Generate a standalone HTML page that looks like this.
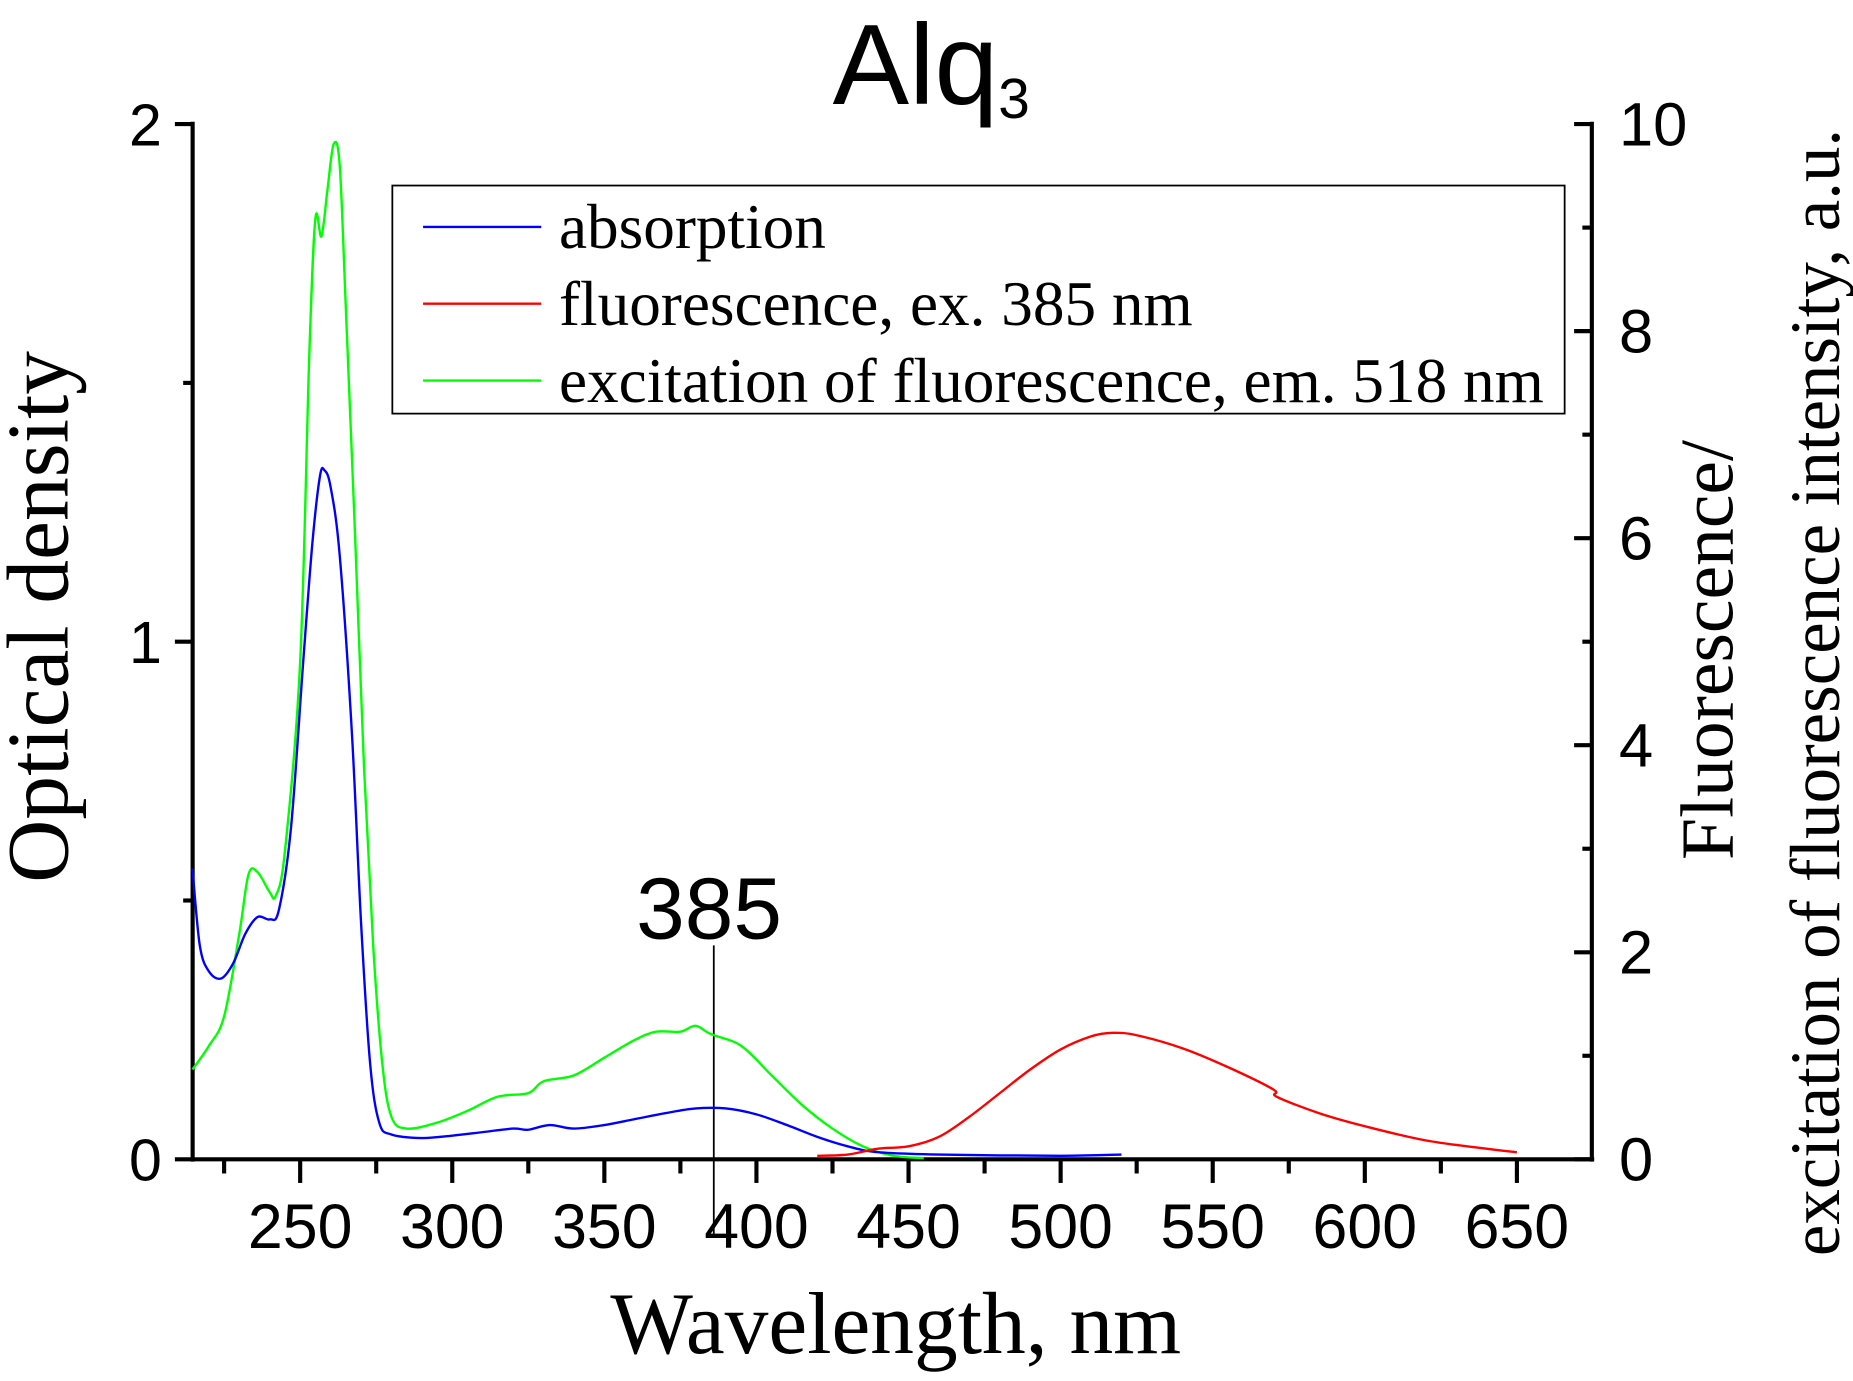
<!DOCTYPE html>
<html><head><meta charset="utf-8"><style>
html,body{margin:0;padding:0;background:#fff}
svg{display:block}
.s{font-family:"Liberation Sans",sans-serif}
.r{font-family:"Liberation Serif",serif}
</style></head><body>
<svg id="c" width="1853" height="1381" viewBox="0 0 1568 1168.6" xmlns="http://www.w3.org/2000/svg">
<rect width="1568" height="1168.6" fill="#fff"/>
<g stroke="#000" stroke-width="3.5" fill="none">
<line x1="163" y1="103" x2="163" y2="983"/>
<line x1="148" y1="981" x2="1349" y2="981"/>
<line x1="1347" y1="103" x2="1347" y2="983"/>
<line x1="148" y1="105" x2="163" y2="105"/>
<line x1="148" y1="543" x2="163" y2="543"/>
<line x1="155" y1="324" x2="163" y2="324"/>
<line x1="155" y1="762" x2="163" y2="762"/>
</g>
<g id="ticks" stroke="#000" stroke-width="3.5"></g>
<line x1="604" y1="800" x2="604" y2="1045" stroke="#000" stroke-width="1.5"/>
<path id="pg" fill="none" stroke="#00ff00" stroke-width="2"/>
<path id="pb" fill="none" stroke="#0000ff" stroke-width="2"/>
<path id="pr" fill="none" stroke="#ff0000" stroke-width="2"/>
<rect x="332" y="157" width="992" height="193" fill="#fff" stroke="#000" stroke-width="1.5"/>
<line x1="358" y1="192" x2="458" y2="192" stroke="#0000ff" stroke-width="2"/>
<line x1="358" y1="257" x2="458" y2="257" stroke="#ff0000" stroke-width="2"/>
<line x1="358" y1="322" x2="458" y2="322" stroke="#00ff00" stroke-width="2"/>
<g class="r" font-size="53.5" fill="#000">
<text x="473" y="210">absorption</text>
<text x="473" y="275">fluorescence, ex. 385 nm</text>
<text x="473" y="340">excitation of fluorescence, em. 518 nm</text>
</g>
<text class="s" x="788" y="88" font-size="97" text-anchor="middle">Alq<tspan font-size="48" dy="12">3</tspan></text>
<text class="s" x="600" y="794" font-size="74" text-anchor="middle">385</text>
<g class="s" font-size="50" text-anchor="end">
<text x="137" y="123">2</text><text x="137" y="561">1</text><text x="137" y="999">0</text>
</g>
<g class="s" font-size="52" id="rl"></g>
<g class="s" font-size="53" text-anchor="middle" id="bl"></g>
<text class="r" x="758" y="1145" font-size="74" text-anchor="middle">Wavelength, nm</text>
<text class="r" font-size="74" text-anchor="middle" transform="translate(57,522) rotate(-90)">Optical density</text>
<text class="r" font-size="64" text-anchor="middle" transform="translate(1466,550) rotate(-90)">Fluorescence/</text>
<text class="r" font-size="60" text-anchor="middle" transform="translate(1556,586) rotate(-90)">excitation of fluorescence intensity, a.u.</text>
</svg>
<script>
function X(l){return 254+2.574*(l-250);}
var t=document.getElementById("ticks"),h="";
for(var l=225;l<=675;l+=25){var x=X(l);if(x<164||x>1346)continue;var big=(l%50==0);h+='<line x1="'+x+'" y1="981" x2="'+x+'" y2="'+(big?1001:993)+'"/>';}
for(var v=0;v<=10;v++){var y=981-87.6*v;h+='<line x1="'+(v%2==0?1332:1339)+'" y1="'+y+'" x2="1347" y2="'+y+'"/>';}
t.innerHTML=h;
var rl="";for(var v=0;v<=10;v+=2){rl+='<text x="1370" y="'+(981-87.6*v+18)+'">'+v+'</text>';}
document.getElementById("rl").innerHTML=rl;
var bl="";for(var l=250;l<=650;l+=50){bl+='<text x="'+X(l)+'" y="1056">'+l+'</text>';}
document.getElementById("bl").innerHTML=bl;
function path(d){var p=d.map(function(a){return [X(a[0]),a[1]];});var s="M"+p[0][0]+","+p[0][1];
for(var i=0;i<p.length-1;i++){var p0=p[i-1]||p[i],p1=p[i],p2=p[i+1],p3=p[i+2]||p2;
s+=" C"+(p1[0]+(p2[0]-p0[0])/6)+","+(p1[1]+(p2[1]-p0[1])/6)+" "+(p2[0]-(p3[0]-p1[0])/6)+","+(p2[1]-(p3[1]-p1[1])/6)+" "+p2[0]+","+p2[1];}return s;}
var g=[[214.6,905],[220,885],[225,860],[230,790],[233,740],[236,738],[240,755],[242,758],[245,720],[250,560],[253,300],[255,185],[257,200],[259,160],[261,122],[263,140],[265,260],[268,450],[271,650],[274,800],[277,900],[280,945],[285,955],[295,950],[305,940],[315,928],[325,925],[330,915],[340,910],[350,895],[360,880],[367,873],[375,873],[380,868],[385,875],[395,885],[405,910],[415,935],[425,955],[435,970],[445,978],[455,980]];
var b=[[214.6,735],[217,800],[220,822],[224,828],[228,815],[232,790],[236,776],[240,778],[243,770],[247,700],[251,560],[254,460],[256.5,403],[258,398],[260,412],[263,470],[267,620],[270,780],[273,900],[276,950],[280,960],[290,963],[300,961],[310,958],[320,955],[325,956],[332,952],[340,955],[350,952],[360,947],[370,942],[380,938],[390,938],[400,943],[410,952],[420,962],[430,970],[440,975],[460,977],[500,978],[520,977]];
var r=[[420,978],[430,977],[440,972],[450,970],[460,962],[470,945],[480,925],[490,905],[500,888],[510,877],[517,874],[525,876],[540,887],[555,903],[570,922],[571,928],[585,942],[600,953],[620,965],[640,972],[650,975]];
document.getElementById("pg").setAttribute("d",path(g));
document.getElementById("pb").setAttribute("d",path(b));
document.getElementById("pr").setAttribute("d",path(r));
</script>
</body></html>
